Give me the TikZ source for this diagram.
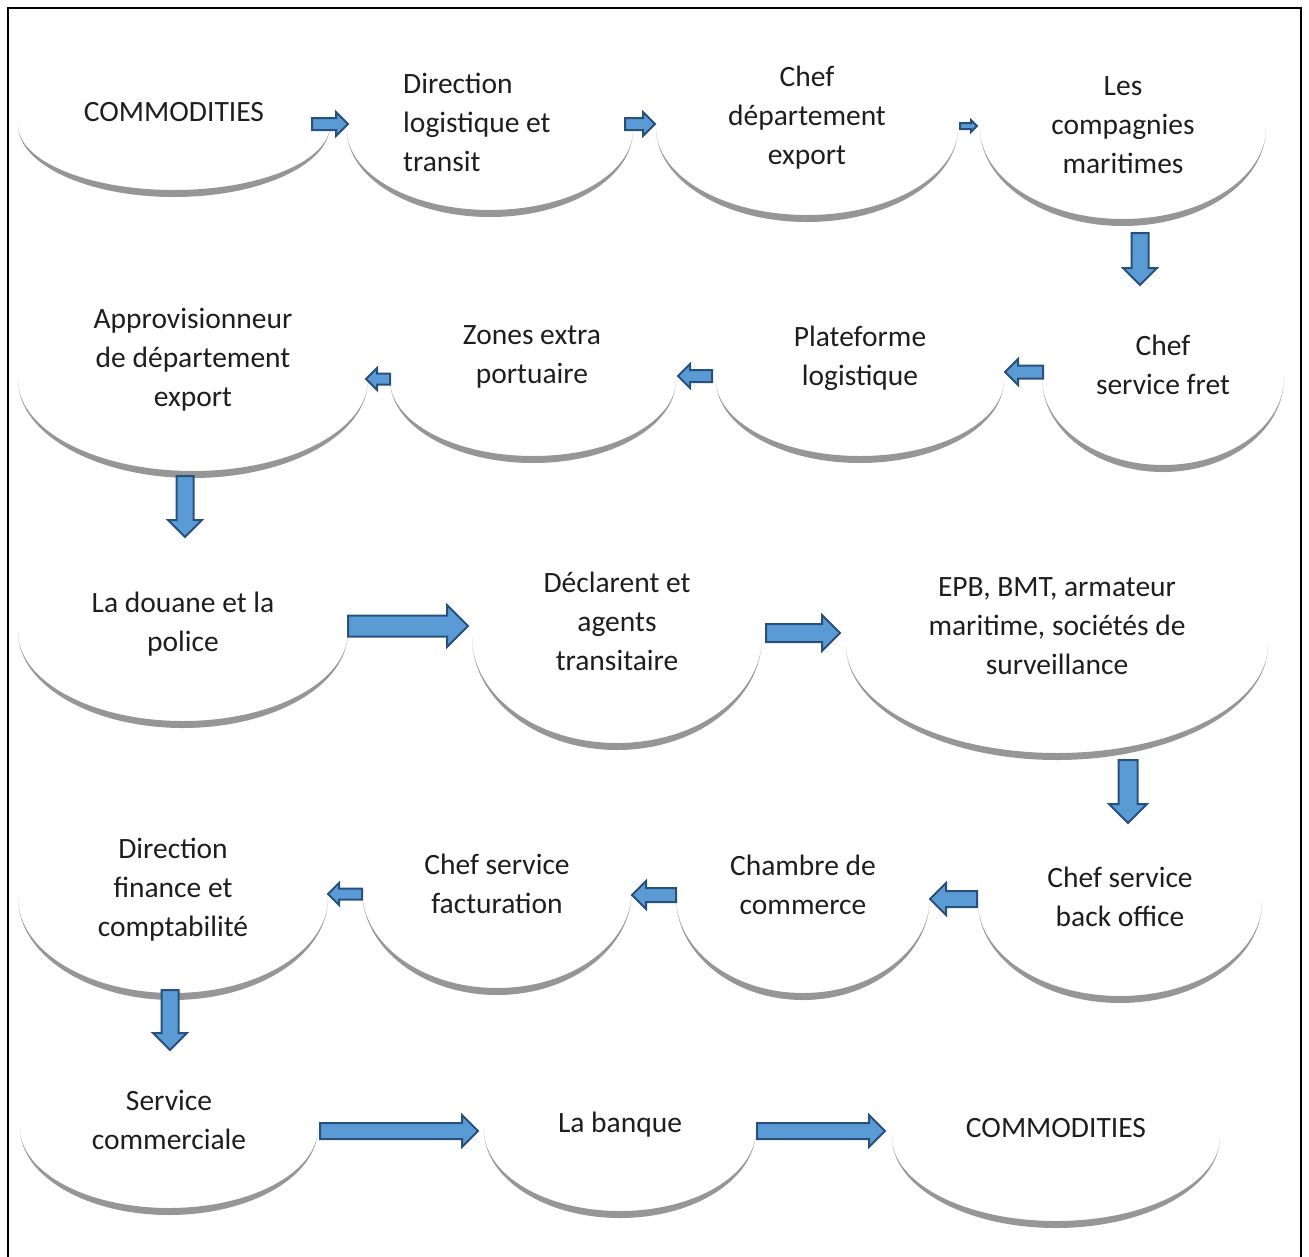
\documentclass[tikz,border=0pt]{standalone}
\usepackage{fontspec}
\setmainfont{Carlito}

\definecolor{arrowfill}{RGB}{91,155,213}
\definecolor{arrowline}{RGB}{40,80,125}
\definecolor{bowlgray}{RGB}{150,150,150}
\definecolor{txt}{RGB}{30,30,30}

\tikzset{
  lbl/.style={text=txt, font=\fontsize{29.5}{39}\selectfont, align=center, inner sep=0pt},
  bowlshade/.style={fill=bowlgray},
  arrowbox/.style={fill=arrowfill, draw=arrowline, line width=2pt, line join=miter}
}

% half ellipse with a thick shaded bottom: cx, cy, rx, ry
\newcommand{\bowl}[4]{%
  \fill[bowlshade] ({#1-#3},#2) arc[start angle=180,end angle=0,x radius=#3,y radius=#4]
    arc[start angle=0,end angle=180,x radius=#3,y radius={#4-7}] -- cycle;}

% block arrow: tail x, tail y, length, width, angle
\newcommand{\blockarrow}[5]{%
  \draw[arrowbox,shift={(#1,#2)},rotate=#5] (0,{-#4/4}) -- ({#3-#4/2},{-#4/4}) -- ({#3-#4/2},{-#4/2})
    -- (#3,0) -- ({#3-#4/2},{#4/2}) -- ({#3-#4/2},{#4/4}) -- (0,{#4/4}) -- cycle;}

\begin{document}
\begin{tikzpicture}[x=1pt, y=-1pt]

\useasboundingbox (0,0) rectangle (1309,1256);
\draw[line width=2.5pt] (8,8) rectangle (1301,1280);

% -------- row 1 -----------
\bowl{174}{125}{156}{72}
\bowl{490}{130}{143}{87}
\bowl{807}{128}{151}{94}
\bowl{1123}{128}{143}{98}

\node[lbl] (commo) at (174,112) {COMMODITIES};
\node[lbl,align=left,anchor=west] (dirlog) at (403,122) {Direction\\logistique et\\transit};
\node[lbl] (chefdep) at (807,118) {Chef\\département\\export};
\node[lbl] (compag) at (1123,125) {Les\\compagnies\\maritimes};

\blockarrow{312}{124}{36}{24}{0}
\blockarrow{625}{124}{30}{24}{0}
\blockarrow{960}{126}{17}{12}{0}
\blockarrow{1140}{233}{52}{34}{-90}

% -------- row 2 -----------
\bowl{193}{380}{175}{98}
\bowl{533}{380}{143}{83}
\bowl{860}{380}{144}{83}
\bowl{1163}{378}{121}{94}

\node[lbl] (approv) at (193,360) {Approvisionneur\\de département\\export};
\node[lbl] (zones) at (532,357) {Zones extra\\portuaire};
\node[lbl] (plate) at (860,358) {Plateforme\\logistique};
\node[lbl] (fret) at (1163,365) {Chef\\service fret};

\blockarrow{390}{379}{24}{22}{180}
\blockarrow{712}{376}{34}{24}{180}
\blockarrow{1043}{372}{38}{26}{180}
\blockarrow{185}{476}{61}{34}{-90}

% -------- row 3 -----------
\bowl{183}{632}{165}{96}
\bowl{617}{637}{145}{113}
\bowl{1057}{645}{211}{115}

\node[lbl] (douane) at (183,624) {La douane et la\\police};
\node[lbl] (declar) at (617,621) {Déclarent et\\agents\\transitaire};
\node[lbl] (epb) at (1057,626) {EPB, BMT, armateur\\maritime, sociétés de\\surveillance};

\blockarrow{348}{626}{120}{42}{0}
\blockarrow{766}{633}{74}{36}{0}
\blockarrow{1128}{760}{63}{38}{-90}

% -------- row 4 -----------
\bowl{173}{898}{155}{102}
\bowl{497}{890}{135}{105}
\bowl{803}{897}{127}{103}
\bowl{1120}{902}{142}{101}

\node[lbl] (finance) at (173,890) {Direction\\finance et\\comptabilité};
\node[lbl] (factu) at (497,884) {Chef service\\facturation};
\node[lbl] (chambre) at (803,885) {Chambre de\\commerce};
\node[lbl] (backoff) at (1120,897) {Chef service\\back office};

\blockarrow{977}{899}{47}{32}{180}
\blockarrow{676}{895}{44}{28}{180}
\blockarrow{362}{894}{34}{22}{180}
\blockarrow{170}{990}{60}{34}{-90}

% -------- row 5 -----------
\bowl{169}{1128}{149}{87}
\bowl{620}{1130}{136}{88}
\bowl{1056}{1137}{164}{91}

\node[lbl] (commerc) at (169,1120) {Service\\commerciale};
\node[lbl] (banque) at (620,1125) {La banque};
\node[lbl] (commo2) at (1056,1128) {COMMODITIES};

\blockarrow{320}{1131}{158}{32}{0}
\blockarrow{757}{1131}{128}{32}{0}

\end{tikzpicture}
\end{document}
